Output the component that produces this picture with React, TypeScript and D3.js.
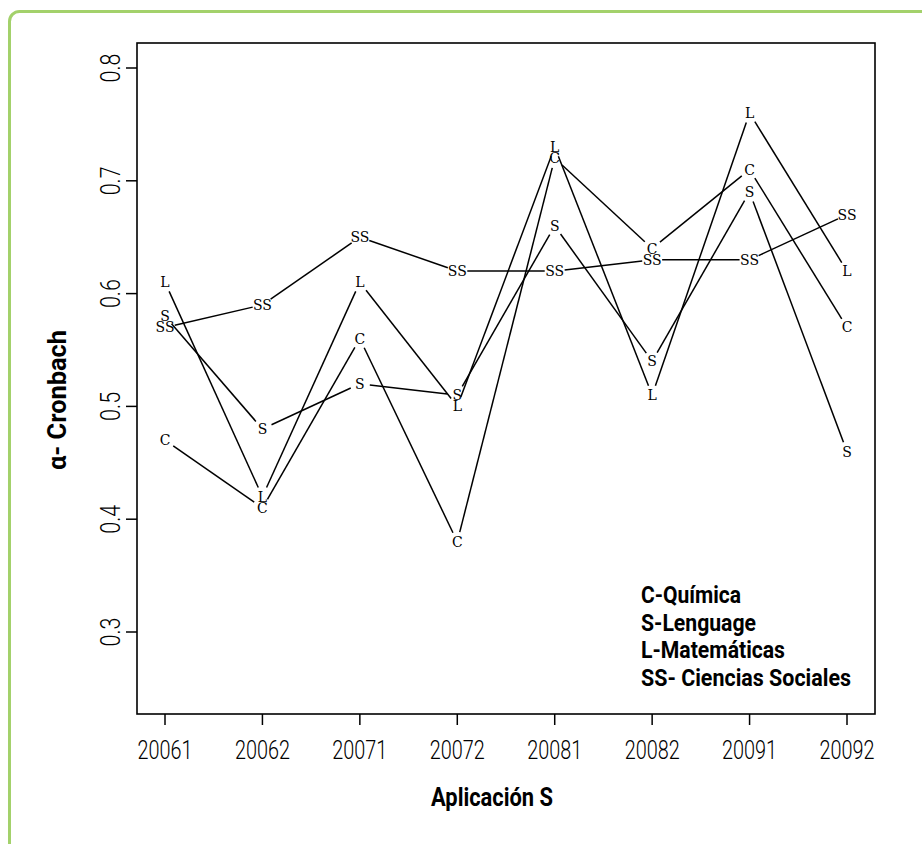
import * as d3 from 'd3';
import { useEffect, useRef } from 'react';

// applications (x axis)
const aplicaciones = ['20061', '20062', '20071', '20072', '20081', '20082', '20091', '20092'];
const yTicks = [0.3, 0.4, 0.5, 0.6, 0.7, 0.8];

// alpha de Cronbach per area
const quimica = [0.47, 0.41, 0.56, 0.38, 0.72, 0.64, 0.71, 0.57];
const lenguaje = [0.58, 0.48, 0.52, 0.51, 0.66, 0.54, 0.69, 0.46];
const matematicas = [0.61, 0.42, 0.61, 0.50, 0.73, 0.51, 0.76, 0.62];
const sociales = [0.57, 0.59, 0.65, 0.62, 0.62, 0.63, 0.63, 0.67];

const seriesSymbols = ['C', 'S', 'L', 'SS'];
const legendLabels = ['C-Química', 'S-Lenguage', 'L-Matemáticas', 'SS- Ciencias Sociales'];

export default function App() {
  const ref = useRef<SVGSVGElement>(null);

  useEffect(() => {
    const width = 922;
    const height = 844;
    const svg = d3.select(ref.current);
    svg.selectAll('*').remove();
    svg.attr('width', width).attr('height', height);

    const box = { left: 137, right: 875, top: 43, bottom: 714 };

    // green card border
    svg.append('rect')
      .attr('x', 9.5).attr('y', 11.5)
      .attr('width', 1000).attr('height', 1000)
      .attr('rx', 10)
      .attr('fill', 'white')
      .attr('stroke', '#a3d16b')
      .attr('stroke-width', 3);

    const x = d3.scalePoint<string>().domain(aplicaciones).range([165, 847]);
    const y = d3.scaleLinear().domain([0.3, 0.8]).range([632, 68]);

    const series = [quimica, lenguaje, matematicas, sociales];
    const gap = 10;

    series.forEach((vals, si) => {
      const pts = vals.map((v, i) => [x(aplicaciones[i]) as number, y(v)]);
      // lines with gaps around the symbols (like R type = "b")
      for (let i = 1; i < pts.length; i++) {
        const [x0, y0] = pts[i - 1];
        const [x1, y1] = pts[i];
        const f = gap / Math.hypot(x1 - x0, y1 - y0);
        if (f >= 0.5) continue;
        svg.append('line')
          .attr('x1', x0 + f * (x1 - x0)).attr('y1', y0 + f * (y1 - y0))
          .attr('x2', x1 + f * (x0 - x1)).attr('y2', y1 + f * (y0 - y1))
          .attr('stroke', '#000').attr('stroke-width', 1.5);
      }
      svg.append('g').selectAll('text')
        .data(pts)
        .enter()
        .append('text')
        .attr('x', d => d[0])
        .attr('y', d => d[1])
        .attr('dy', '0.36em')
        .attr('text-anchor', 'middle')
        .attr('font-family', 'DejaVu Serif')
        .attr('font-size', 14)
        .attr('fill', '#000')
        .text(seriesSymbols[si]);
    });

    // box
    svg.append('rect')
      .attr('x', box.left).attr('y', box.top)
      .attr('width', box.right - box.left).attr('height', box.bottom - box.top)
      .attr('fill', 'none').attr('stroke', '#000').attr('stroke-width', 1.6);

    // x axis
    const gx = svg.append('g');
    aplicaciones.forEach(a => {
      gx.append('line')
        .attr('x1', x(a) as number).attr('x2', x(a) as number)
        .attr('y1', box.bottom).attr('y2', box.bottom + 11)
        .attr('stroke', '#000').attr('stroke-width', 1.5);
      gx.append('text')
        .attr('x', x(a) as number).attr('y', 759)
        .attr('text-anchor', 'middle')
        .attr('font-family', 'Roboto').attr('font-weight', 300).attr('font-size', 26)
        .attr('textLength', 55).attr('lengthAdjust', 'spacingAndGlyphs')
        .text(a);
    });

    // y axis
    const gy = svg.append('g');
    yTicks.forEach(t => {
      gy.append('line')
        .attr('x1', box.left - 11).attr('x2', box.left)
        .attr('y1', y(t)).attr('y2', y(t))
        .attr('stroke', '#000').attr('stroke-width', 1.5);
      gy.append('text')
        .attr('transform', `translate(120,${y(t)}) rotate(-90)`)
        .attr('text-anchor', 'middle')
        .attr('font-family', 'Roboto').attr('font-weight', 300).attr('font-size', 27)
        .attr('textLength', 29).attr('lengthAdjust', 'spacingAndGlyphs')
        .text(d3.format('.1f')(t));
    });

    // axis titles
    svg.append('text')
      .attr('x', 492).attr('y', 806)
      .attr('text-anchor', 'middle')
      .attr('font-family', 'Roboto').attr('font-weight', 700).attr('font-size', 25)
      .attr('textLength', 122).attr('lengthAdjust', 'spacingAndGlyphs')
      .text('Aplicación S');
    svg.append('text')
      .attr('transform', 'translate(66,400) rotate(-90)')
      .attr('text-anchor', 'middle')
      .attr('font-family', 'Roboto').attr('font-weight', 700).attr('font-size', 25)
      .attr('textLength', 140).attr('lengthAdjust', 'spacingAndGlyphs')
      .text('α- Cronbach');

    // legend
    const legendLengths = [100, 115, 144, 210];
    legendLabels.forEach((l, i) => {
      svg.append('text')
        .attr('x', 641).attr('y', 603 + i * 27.5)
        .attr('font-family', 'Roboto').attr('font-weight', 700).attr('font-size', 23)
        .attr('textLength', legendLengths[i]).attr('lengthAdjust', 'spacingAndGlyphs')
        .text(l);
    });
  }, []);

  return (
    <div style={{ position: 'absolute', left: 0, top: 0, width: 922, height: 844, overflow: 'hidden', background: 'white' }}>
      <svg ref={ref} style={{ display: 'block' }}></svg>
    </div>
  );
}
